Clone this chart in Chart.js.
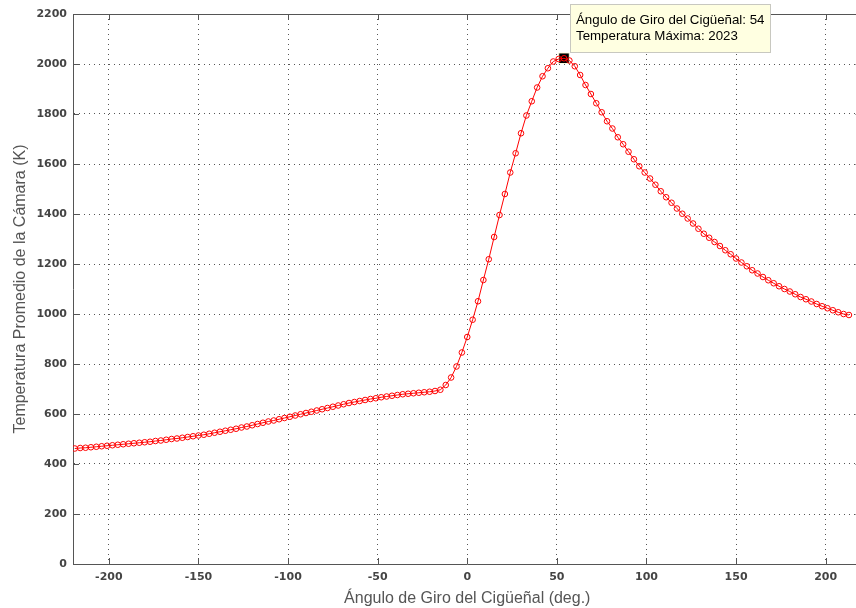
<!DOCTYPE html>
<html>
<head>
<meta charset="utf-8">
<script src="https://cdn.jsdelivr.net/npm/chart.js@4.4.0/dist/chart.umd.min.js"></script>
<style>
  body { margin: 0; overflow: hidden; background: #fff; }
</style>
</head>
<body>
<canvas id="ctx" width="870" height="608"></canvas>
<script>
// Data
const angles = [
  -219, -216, -213, -210, -207, -204, -201, -198, -195, -192,
  -189, -186, -183, -180, -177, -174, -171, -168, -165, -162,
  -159, -156, -153, -150, -147, -144, -141, -138, -135, -132,
  -129, -126, -123, -120, -117, -114, -111, -108, -105, -102,
  -99, -96, -93, -90, -87, -84, -81, -78, -75, -72,
  -69, -66, -63, -60, -57, -54, -51, -48, -45, -42,
  -39, -36, -33, -30, -27, -24, -21, -18, -15, -12,
  -9, -6, -3, 0, 3, 6, 9, 12, 15, 18,
  21, 24, 27, 30, 33, 36, 39, 42, 45, 48,
  51, 54, 57, 60, 63, 66, 69, 72, 75, 78,
  81, 84, 87, 90, 93, 96, 99, 102, 105, 108,
  111, 114, 117, 120, 123, 126, 129, 132, 135, 138,
  141, 144, 147, 150, 153, 156, 159, 162, 165, 168,
  171, 174, 177, 180, 183, 186, 189, 192, 195, 198,
  201, 204, 207, 210, 213
];
const temps = [
  462, 464, 465, 467, 469, 471, 473, 475, 477, 479,
  481, 483, 485, 487, 489, 492, 494, 497, 500, 502,
  505, 508, 511, 514, 517, 521, 525, 529, 533, 537,
  541, 546, 550, 555, 560, 565, 570, 574, 579, 584,
  589, 594, 599, 604, 609, 614, 619, 624, 629, 634,
  639, 644, 648, 652, 656, 660, 663, 667, 670, 673,
  676, 679, 681, 683, 685, 687, 689, 692, 697, 716,
  746, 790, 846, 908, 977, 1051, 1136, 1219, 1308, 1396,
  1480, 1566, 1643, 1723, 1794, 1851, 1906, 1951, 1983, 2010,
  2020, 2023, 2014, 1991, 1956, 1916, 1880, 1843, 1807, 1771,
  1742, 1707, 1679, 1649, 1619, 1591, 1566, 1542, 1517, 1491,
  1467, 1445, 1422, 1401, 1382, 1362, 1341, 1321, 1305, 1288,
  1272, 1255, 1239, 1222, 1206, 1191, 1175, 1162, 1148, 1135,
  1123, 1111, 1100, 1090, 1079, 1068, 1059, 1050, 1040, 1031,
  1023, 1015, 1007, 1000, 996
];
const peakAngle = 54;
const peakTemp = 2023;

const xTitle = 'Ángulo de Giro del Cigüeñal (deg.)';
const yTitle = 'Temperatura Promedio de la Cámara (K)';
const tipLines = [
  'Ángulo de Giro del Cigüeñal: ' + peakAngle,
  'Temperatura Máxima: ' + peakTemp
];

const points = angles.map((a, i) => ({ x: a, y: temps[i] }));

// frame on top/right + inward tick marks (matlab style)
const frame = {
  id: 'frame',
  afterDraw(chart) {
    const c = chart.ctx, a = chart.chartArea;
    const sx = chart.scales.x, sy = chart.scales.y;
    c.save();
    c.strokeStyle = '#555';
    c.lineWidth = 1;
    c.beginPath();
    c.moveTo(a.left, a.top + 0.5); c.lineTo(a.right, a.top + 0.5);
    c.moveTo(a.right - 0.5, a.top); c.lineTo(a.right - 0.5, a.bottom);
    sx.ticks.forEach(t => {
      const p = Math.round(sx.getPixelForValue(t.value)) + 0.5;
      c.moveTo(p, a.bottom); c.lineTo(p, a.bottom - 6);
      c.moveTo(p, a.top); c.lineTo(p, a.top + 6);
    });
    sy.ticks.forEach(t => {
      const p = Math.round(sy.getPixelForValue(t.value)) + 0.5;
      c.moveTo(a.left, p); c.lineTo(a.left + 6, p);
      c.moveTo(a.right, p); c.lineTo(a.right - 6, p);
    });
    c.stroke();
    c.restore();
  }
};

// data tip box next to the peak
const datatip = {
  id: 'datatip',
  afterDraw(chart) {
    const c = chart.ctx;
    const px = Math.round(chart.scales.x.getPixelForValue(peakAngle));
    const py = Math.round(chart.scales.y.getPixelForValue(peakTemp));
    const bx = px + 6.5, by = py - 53.5;
    c.save();
    c.fillStyle = '#ffffe1';
    c.strokeStyle = '#c8c8c0';
    c.lineWidth = 1;
    c.fillRect(bx, by, 200, 48);
    c.strokeRect(bx, by, 200, 48);
    c.fillStyle = '#000';
    c.font = '13.3px "Liberation Sans", Arial, sans-serif';
    c.textBaseline = 'alphabetic';
    c.fillText(tipLines[0], px + 12, py - 34);
    c.fillText(tipLines[1], px + 12, py - 18);
    c.restore();
  }
};

const tickFont = { family: '"DejaVu Sans", sans-serif', size: 11, weight: 'bold' };
const titleFont = { family: '"Liberation Sans", Arial, sans-serif', size: 16 };

new Chart(document.getElementById('ctx'), {
  type: 'line',
  data: {
    datasets: [{
      data: points,
      borderColor: '#ff0000',
      borderWidth: 1,
      pointStyle: 'circle',
      pointRadius: 2.8,
      pointBorderWidth: 1,
      pointBorderColor: '#ff0000',
      pointBackgroundColor: 'rgba(255,0,0,0)',
      tension: 0
    }, {
      data: [{ x: peakAngle, y: peakTemp }],
      showLine: false,
      pointStyle: 'rect',
      pointRadius: 7.5,
      pointBackgroundColor: '#000',
      pointBorderColor: '#ffffe1',
      pointBorderWidth: 1
    }]
  },
  options: {
    responsive: false,
    animation: false,
    layout: { padding: { top: 14, right: 5, left: 0, bottom: 0 } },
    plugins: { legend: { display: false }, tooltip: { enabled: false } },
    scales: {
      x: {
        type: 'linear',
        min: -220,
        max: 220,
        afterFit: s => { s.height = 44; },
        ticks: {
          stepSize: 50,
          includeBounds: false,
          padding: 7,
          color: '#444',
          font: tickFont,
          callback: v => String(v)
        },
        grid: { color: '#555', drawTicks: false },
        border: { display: true, color: '#555', width: 1, dash: [1, 4] },
        title: {
          display: true,
          text: xTitle,
          color: '#555',
          padding: { top: 2, bottom: 0 },
          font: titleFont
        }
      },
      y: {
        min: 0,
        max: 2200,
        afterFit: s => { s.width = 73; },
        ticks: {
          stepSize: 200,
          padding: 6,
          color: '#444',
          font: tickFont,
          callback: v => String(v)
        },
        grid: { color: '#555', drawTicks: false },
        border: { display: true, color: '#555', width: 1, dash: [1, 4] },
        title: {
          display: true,
          text: yTitle,
          color: '#555',
          padding: { top: 10.5, bottom: 0 },
          font: titleFont
        }
      }
    }
  },
  plugins: [frame, datatip]
});
</script>
</body>
</html>
